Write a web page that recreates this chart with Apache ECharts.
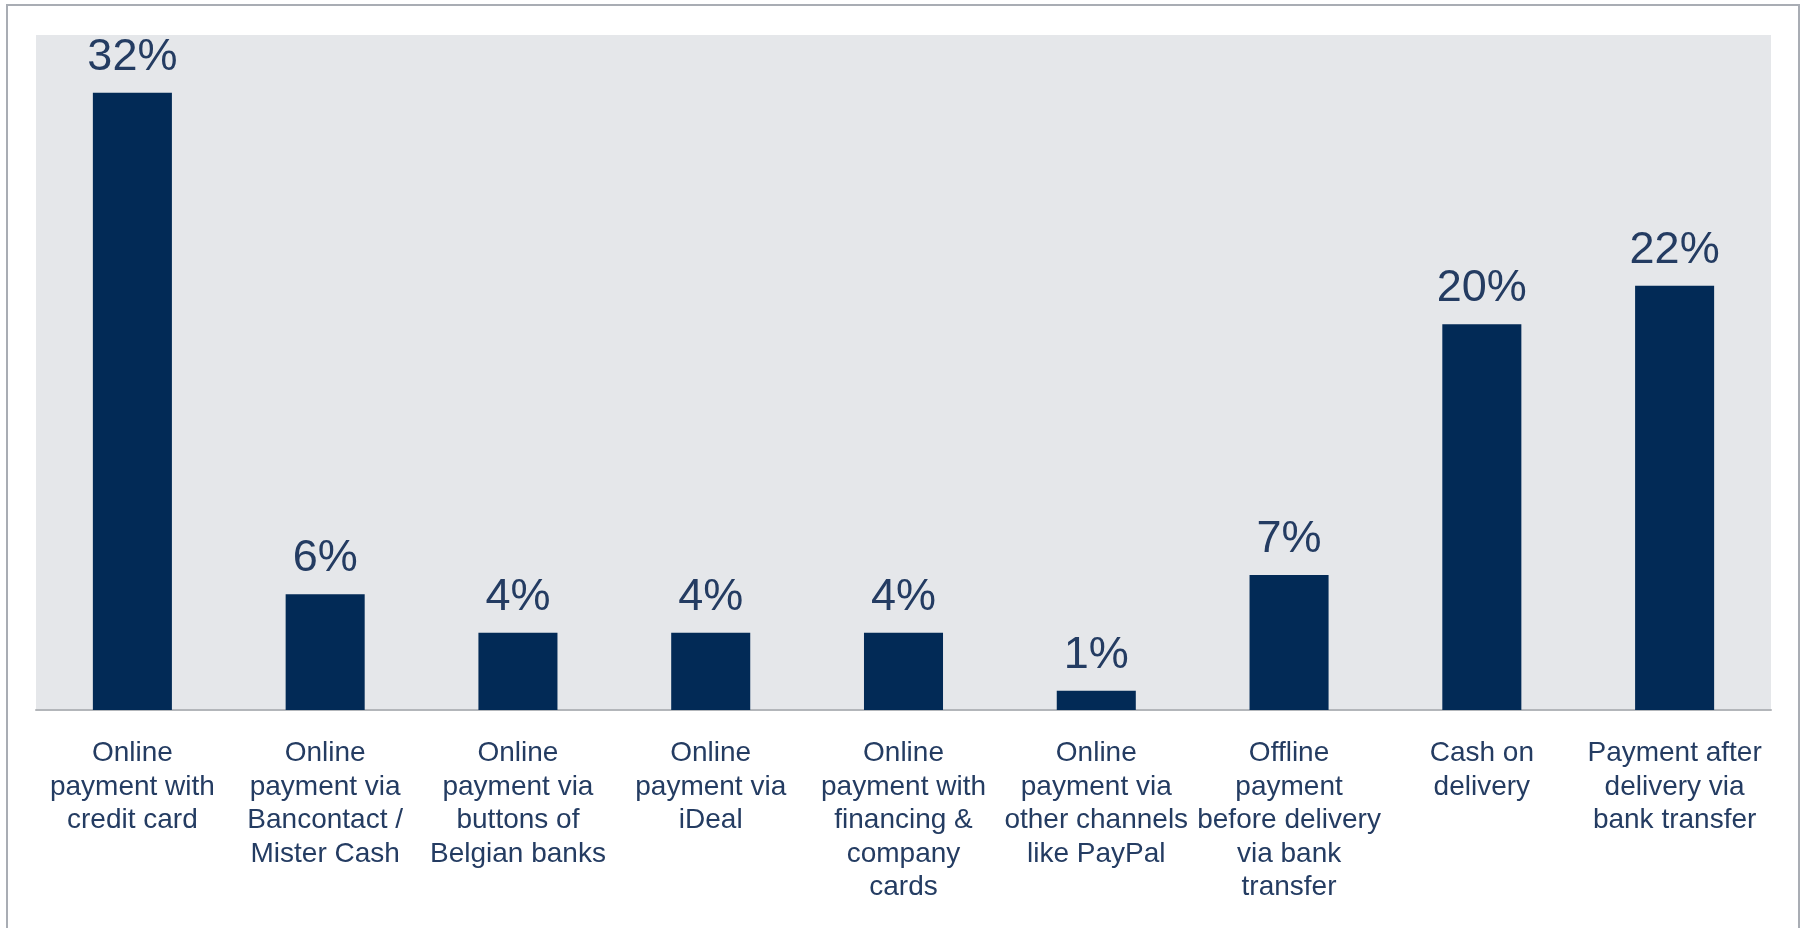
<!DOCTYPE html>
<html>
<head>
<meta charset="utf-8">
<title>Payment methods</title>
<script src="https://cdn.jsdelivr.net/npm/echarts@6/dist/echarts.min.js"></script>
<style>
  html, body { margin: 0; padding: 0; background: #ffffff; }
  #chart { width: 1804px; height: 928px; }
</style>
</head>
<body>
<div id="chart"></div>
<script>
// Payment method categories (line breaks as laid out under each bar)
const categories = [
  'Online\npayment with\ncredit card',
  'Online\npayment via\nBancontact /\nMister Cash',
  'Online\npayment via\nbuttons of\nBelgian banks',
  'Online\npayment via\niDeal',
  'Online\npayment with\nfinancing &\ncompany\ncards',
  'Online\npayment via\nother channels\nlike PayPal',
  'Offline\npayment\nbefore delivery\nvia bank\ntransfer',
  'Cash on\ndelivery',
  'Payment after\ndelivery via\nbank transfer'
];

// Share of respondents per method, in percent
const shares = [32, 6, 4, 4, 4, 1, 7, 20, 22];

const yMax = 35;

const NAVY = '#022a56';
const TEXT = '#243c62';
const FONT = '"Liberation Sans", Arial, Helvetica, sans-serif';

const chart = echarts.init(document.getElementById('chart'));

chart.setOption({
  backgroundColor: '#ffffff',
  animation: false,
  graphic: [
    {
      type: 'rect',
      shape: { x: 7, y: 5, width: 1792, height: 940 },
      style: { fill: 'none', stroke: '#a9adb4', lineWidth: 2 },
      z: 10
    }
  ],
  grid: {
    left: 36,
    right: 33,
    top: 35,
    bottom: 218,
    show: true,
    backgroundColor: '#e5e7ea',
    borderWidth: 0
  },
  xAxis: {
    type: 'category',
    data: categories,
    axisLine: { show: true, lineStyle: { color: '#b3b6ba', width: 2 } },
    axisTick: { show: false },
    axisLabel: {
      interval: 0,
      margin: 27,
      color: TEXT,
      fontFamily: FONT,
      fontSize: 28,
      lineHeight: 33.5,
      align: 'center'
    }
  },
  yAxis: {
    type: 'value',
    min: 0,
    max: yMax,
    show: false,
    splitLine: { show: false }
  },
  series: [
    {
      type: 'bar',
      data: shares,
      barCategoryGap: '59%',
      itemStyle: { color: NAVY },
      label: {
        show: true,
        position: 'top',
        distance: 13,
        color: TEXT,
        fontFamily: FONT,
        fontSize: 45,
        formatter: p => p.value + '%'
      }
    }
  ]
});
</script>
</body>
</html>
